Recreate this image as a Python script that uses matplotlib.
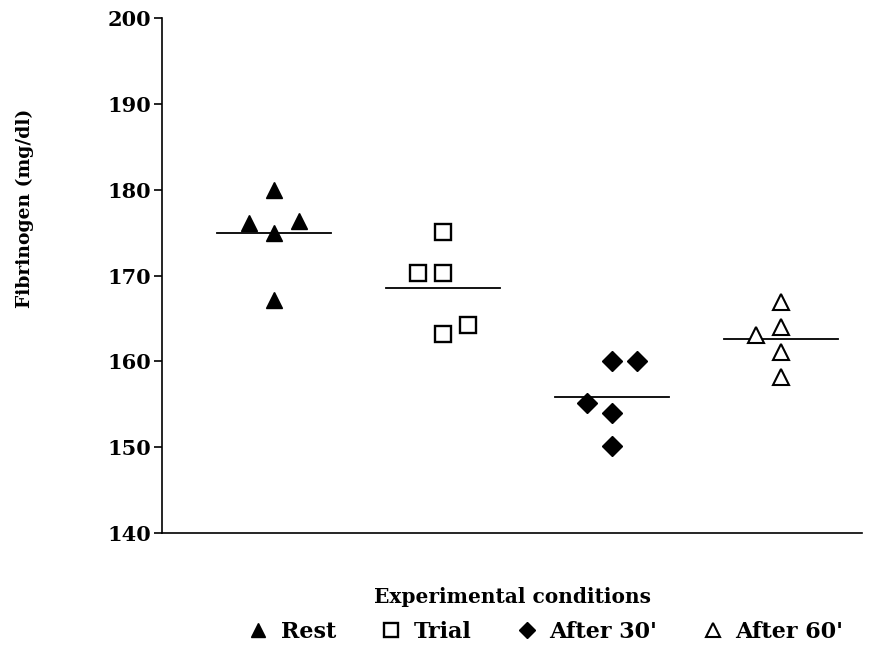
import matplotlib.pyplot as plt
import numpy as np
from matplotlib.lines import Line2D

plt.rcParams['font.family'] = ['DejaVu Serif']
plt.rcParams['font.weight'] = 'bold'

groups = ['Rest', 'Trial', "After 30'", "After 60'"]
rest = [176.1, 180.0, 174.9, 167.1, 176.4]
trial = [170.3, 175.1, 170.3, 163.2, 164.2]
after30 = [155.1, 160.0, 154.0, 150.1, 160.0]
after60 = [163.1, 166.9, 164.0, 161.1, 158.2]
means = [174.9, 168.5, 155.8, 162.6]

# column of each point: -1 left, 0 centre, 1 right
cols_rest = [-1, 0, 0, 0, 1]
cols_trial = [-1, 0, 0, 0, 1]
cols_30 = [-1, 0, 0, 0, 1]
cols_60 = [-1, 0, 0, 0, 0]

values = [rest, trial, after30, after60]
columns = [cols_rest, cols_trial, cols_30, cols_60]
styles = [
    dict(marker='^', mfc='black', mec='black', ms=12),
    dict(marker='s', mfc='white', mec='black', ms=12, mew=1.7),
    dict(marker='D', mfc='black', mec='black', ms=10),
    dict(marker='^', mfc='white', mec='black', ms=12, mew=1.5),
]

fig = plt.figure(figsize=(8.85, 6.47), dpi=100)
ax = fig.add_axes([162 / 885, 1 - 533 / 647, 700 / 885, 515 / 647])

step = 0.15
for i, (vals, cols, st) in enumerate(zip(values, columns, styles)):
    xc = i + 1
    xs = [xc + c * step for c in cols]
    ax.plot(xs, vals, linestyle='none', **st, zorder=3)
    ax.plot([xc - 0.335, xc + 0.335], [means[i]] * 2, color='black', lw=1.3, zorder=2)

ax.set_ylim(140, 200)
ax.set_xlim(0.337, 4.48)
ax.set_yticks(np.arange(140, 201, 10))
ax.set_xticks([])
ax.spines['top'].set_visible(False)
ax.spines['right'].set_visible(False)
ax.spines['left'].set_linewidth(1.2)
ax.spines['bottom'].set_linewidth(1.2)
ax.tick_params(axis='y', direction='out', length=6, width=1.2, labelsize=15, pad=2)
for lab in ax.get_yticklabels():
    lab.set_fontweight('bold')

fig.text(25 / 885, 1 - 208 / 647, 'Fibrinogen (mg/dl)', rotation=90, ha='center', va='center',
         fontsize=13.5, fontweight='bold')
fig.text(513 / 885, 1 - 597 / 647, 'Experimental conditions', ha='center', va='center',
         fontsize=14.5, fontweight='bold')

handles = [Line2D([], [], linestyle='none', **dict(st, ms=st['ms'] * 0.85)) for st in styles]
fig.legend(handles, groups, loc='center', bbox_to_anchor=(545 / 885, 1 - 632 / 647), ncol=4,
           frameon=False, prop={'size': 16, 'weight': 'bold'}, handletextpad=0.5, columnspacing=2.0,
           handlelength=1.0)

fig.savefig('out.png', dpi=100)
